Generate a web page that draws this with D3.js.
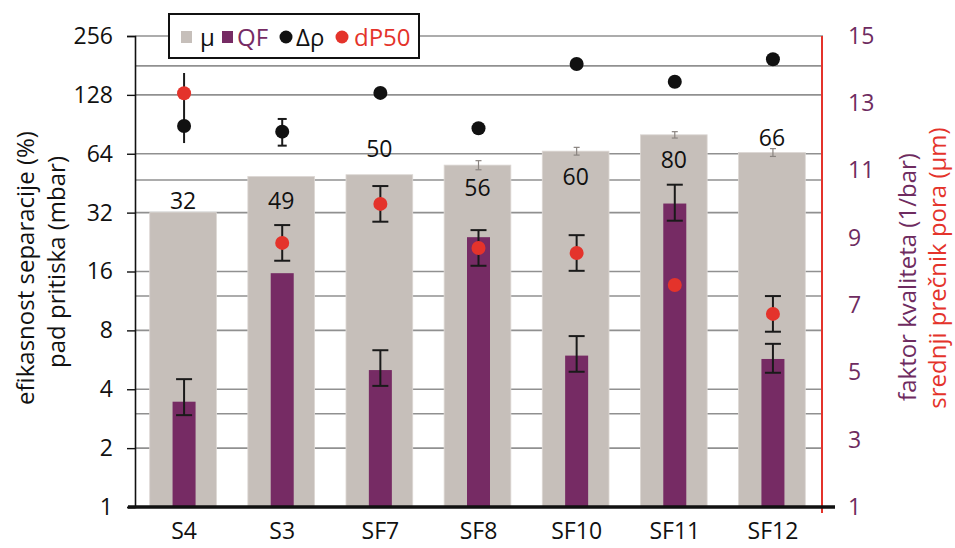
<!DOCTYPE html>
<html><head><meta charset="utf-8">
<script src="https://cdn.jsdelivr.net/npm/d3@7"></script>
<style>
body{margin:0;background:#fff}
svg{display:block}
text{font-family:"Open Sans","Noto Sans",sans-serif}
</style>
</head><body>
<svg id="c" width="955" height="548"></svg>
<script>
// ---------- data ----------
const categories = ["S4","S3","SF7","SF8","SF10","SF11","SF12"];
// μ – separation efficiency (%), left log2 axis
const muValues = [32, 49, 50, 56, 66, 80, 65];
const muLabels = ["32","49","50","56","60","80","66"];
const muErr    = [0, 0, 0, 3, 3, 3, 3];
// QF – quality factor (1/bar), right axis
const qfValues   = [4.13, 7.95, 5.07, 9.02, 5.50, 10.02, 5.40];
const qfErrLow   = [3.73, null, 4.60, null, 5.02, 9.51, 4.99];
const qfErrHigh  = [4.80, null, 5.66, null, 6.08, 10.58, 5.85];
// Δρ – pressure drop (mbar), left log2 axis
const deltaRhoValues  = [88.7, 83.0, 131, 86.4, 184, 149.5, 194.6];
const deltaRhoErrLow  = [72.6, 70.4, null, null, null, null, null];
const deltaRhoErrHigh = [165.6, 96.4, null, null, null, null, null];
const deltaRhoCapped  = [false, true, true, true, true, true, true];
// dP50 – mean pore diameter (µm), right axis
const dp50Values = [13.30, 8.85, 10.01, 8.70, 8.55, 7.60, 6.74];
const dp50Err    = [0, 0.53, 0.53, 0.53, 0.53, 0, 0.53];
// axes
const leftTicks  = [1, 2, 4, 8, 16, 32, 64, 128, 256];
const rightTicks = [1, 3, 5, 7, 9, 11, 13, 15];
const extraGrid  = [3, 12, 47, 180];

// ---------- layout / style ----------
const X0 = 135, X1 = 822, YB = 507, YT = 36;
const labelOffset = [-4, 33, -18, 31, 34, 33, -6];   // px from bar top to label baseline
const C = {gray:"#c6bfba", purple:"#762b64", red:"#e4332b", black:"#111", grid:"#909090", rightTick:"#6e2b60"};
const FS_TICK = 23, FS_CAT = 23, FS_TITLE = 24, FS_VAL = 23, FS_LEG = 24;

const svg = d3.select("#c");
const x  = d3.scaleBand().domain(categories).range([X0, X1]).padding(0);
const yL = d3.scaleLog().base(2).domain([1, 256]).range([YB, YT]);
const yR = d3.scaleLinear().domain([1, 15]).range([YB, YT]);
const cx = c => x(c) + x.bandwidth() / 2;
const idx = categories.map((c, i) => i);

// gridlines
const gridVals = leftTicks.filter(v => v > 1).concat(extraGrid);
svg.append("g").selectAll("line").data(gridVals).join("line")
  .attr("x1", X0).attr("x2", X1 + 1)
  .attr("y1", d => yL(d)).attr("y2", d => yL(d))
  .attr("stroke", C.grid).attr("stroke-width", 1.6);

// μ bars
const gw = x.bandwidth() * 0.68;
svg.append("g").selectAll("rect").data(idx).join("rect")
  .attr("x", i => cx(categories[i]) - gw / 2 - 1)
  .attr("width", gw)
  .attr("y", i => yL(muValues[i]))
  .attr("height", i => YB - yL(muValues[i]))
  .attr("fill", C.gray).attr("stroke", "#ddd8d4").attr("stroke-width", 0.8);

// μ error bars (small, gray)
const muE = svg.append("g").attr("stroke", "#8a8480").attr("stroke-width", 1.2);
idx.filter(i => muErr[i] > 0).forEach(i => {
  const xc = cx(categories[i]), y1 = yL(muValues[i] + muErr[i]), y2 = yL(muValues[i] - muErr[i]);
  muE.append("line").attr("x1", xc).attr("x2", xc).attr("y1", y1).attr("y2", y2);
  [y1, y2].forEach(yy => muE.append("line").attr("x1", xc - 3).attr("x2", xc + 3).attr("y1", yy).attr("y2", yy));
});

// μ labels
svg.append("g").selectAll("text").data(idx).join("text")
  .attr("x", i => cx(categories[i]) - 1)
  .attr("y", i => yL(muValues[i]) + labelOffset[i])
  .attr("text-anchor", "middle").attr("font-size", FS_VAL).attr("fill", "#111")
  .text(i => muLabels[i]);

// QF bars
const pw = 23;
svg.append("g").selectAll("rect").data(idx).join("rect")
  .attr("x", i => cx(categories[i]) - pw / 2)
  .attr("width", pw)
  .attr("y", i => yR(qfValues[i]))
  .attr("height", i => YB - yR(qfValues[i]))
  .attr("fill", C.purple);

function errBar(g, xc, y1, y2, cap, caps) {
  g.append("line").attr("x1", xc).attr("x2", xc).attr("y1", y1).attr("y2", y2);
  if (caps) [y1, y2].forEach(yy => g.append("line")
      .attr("x1", xc - cap / 2).attr("x2", xc + cap / 2).attr("y1", yy).attr("y2", yy));
}
const eg = svg.append("g").attr("stroke", "#1a1a1a").attr("stroke-width", 2);
// QF error bars
idx.filter(i => qfErrLow[i] != null).forEach(i =>
  errBar(eg, cx(categories[i]), yR(qfErrHigh[i]), yR(qfErrLow[i]), 16, true));
// Δρ error bars
idx.filter(i => deltaRhoErrLow[i] != null).forEach(i =>
  errBar(eg, cx(categories[i]), yL(deltaRhoErrHigh[i]), yL(deltaRhoErrLow[i]), 9, deltaRhoCapped[i]));
// dP50 error bars
idx.filter(i => dp50Err[i] > 0).forEach(i =>
  errBar(eg, cx(categories[i]), yR(dp50Values[i] + dp50Err[i]), yR(dp50Values[i] - dp50Err[i]), 16, true));

// Δρ points
svg.append("g").selectAll("circle").data(idx).join("circle")
  .attr("cx", i => cx(categories[i])).attr("cy", i => yL(deltaRhoValues[i]))
  .attr("r", 7).attr("fill", C.black);
// dP50 points
svg.append("g").selectAll("circle").data(idx).join("circle")
  .attr("cx", i => cx(categories[i])).attr("cy", i => yR(dp50Values[i]))
  .attr("r", 7).attr("fill", C.red);

// left axis
const la = svg.append("g").attr("transform", `translate(${X0},0)`)
  .call(d3.axisLeft(yL).tickValues(leftTicks).tickSize(8).tickPadding(14).tickFormat(d3.format("d")));
la.select(".domain").attr("stroke", "#111").attr("stroke-width", 1.6);
la.selectAll(".tick line").attr("stroke", "#111").attr("stroke-width", 1.4);
la.selectAll(".tick text").attr("font-size", FS_TICK).attr("fill", "#111").attr("font-family", "'Open Sans',sans-serif");

// right axis
svg.append("line").attr("x1", X1).attr("x2", X1).attr("y1", YT).attr("y2", YB + 6)
  .attr("stroke", C.red).attr("stroke-width", 2);
const ra = svg.append("g").attr("transform", `translate(${X1},0)`)
  .call(d3.axisRight(yR).tickValues(rightTicks).tickSize(0).tickPadding(26).tickFormat(d3.format("d")));
ra.select(".domain").remove();
ra.selectAll(".tick text").attr("font-size", FS_TICK).attr("fill", C.rightTick).attr("font-family", "'Open Sans',sans-serif");

// baseline
svg.append("line").attr("x1", X0 - 7).attr("x2", X1 + 13).attr("y1", YB).attr("y2", YB)
  .attr("stroke", "#111").attr("stroke-width", 3.5);

// category labels
const xa = svg.append("g").attr("transform", `translate(0,${YB})`)
  .call(d3.axisBottom(x).tickSize(0).tickPadding(16));
xa.select(".domain").remove();
xa.selectAll(".tick text").attr("font-size", FS_CAT).attr("fill", "#111").attr("font-family", "'Open Sans',sans-serif");

// axis titles
function vtitle(xp, yp, parts) {
  const t = svg.append("text").attr("transform", `translate(${xp},${yp}) rotate(-90)`)
    .attr("text-anchor", "middle").attr("font-size", FS_TITLE);
  parts.forEach(p => t.append("tspan").attr("fill", p[1]).text(p[0]));
}
vtitle(34, 268, [["efikasnost separacije (%)", "#111"]]);
vtitle(65, 262, [["pad pritiska (mbar)", "#111"]]);
vtitle(916, 277, [["faktor kvaliteta (1/bar)", C.rightTick]]);
vtitle(946, 268, [["srednji prečnik pora (µm)", C.red]]);

// legend
const lg = svg.append("g");
lg.append("rect").attr("x", 169).attr("y", 14).attr("width", 250).attr("height", 44)
  .attr("fill", "#fff").attr("stroke", "#111").attr("stroke-width", 2);
const legendItems = [
  {label:"μ",    color:C.gray,   text:"#111",   shape:"rect",   mx:181, tx:200},
  {label:"QF",   color:C.purple, text:C.purple, shape:"rect",   mx:222, tx:237},
  {label:"Δρ",   color:C.black,  text:"#111",   shape:"circle", mx:286, tx:296},
  {label:"dP50", color:C.red,    text:C.red,    shape:"circle", mx:342, tx:354}
];
legendItems.forEach(it => {
  if (it.shape === "rect")
    lg.append("rect").attr("x", it.mx).attr("y", 31).attr("width", 11).attr("height", 12).attr("fill", it.color);
  else
    lg.append("circle").attr("cx", it.mx).attr("cy", 37).attr("r", 6.5).attr("fill", it.color);
  lg.append("text").attr("x", it.tx).attr("y", 46).attr("font-size", FS_LEG).attr("fill", it.text).text(it.label);
});
</script>
</body></html>
